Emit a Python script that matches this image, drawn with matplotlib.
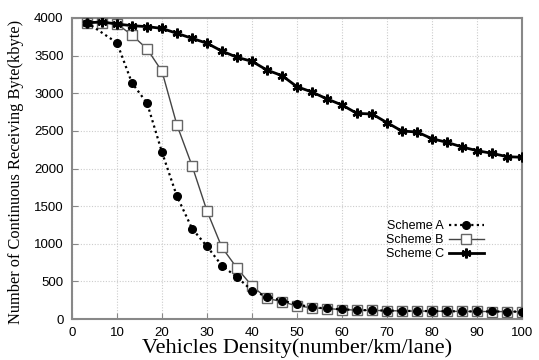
import matplotlib
matplotlib.use("Agg")
import matplotlib.pyplot as plt

# Vehicles density (number/km/lane)
x_full = [3.3, 6.7, 10, 13.3, 16.7, 20, 23.3, 26.7, 30, 33.3, 36.7, 40, 43.3, 46.7, 50,
          53.3, 56.7, 60, 63.3, 66.7, 70, 73.3, 76.7, 80, 83.3, 86.7, 90, 93.3, 96.7, 100]
x_a = [3.3, 10, 13.3, 16.7, 20, 23.3, 26.7, 30, 33.3, 36.7, 40, 43.3, 46.7, 50,
       53.3, 56.7, 60, 63.3, 66.7, 70, 73.3, 76.7, 80, 83.3, 86.7, 90, 93.3, 96.7, 100]

scheme_a = [3940, 3670, 3140, 2866, 2215, 1634, 1200, 965, 710, 555, 378, 297, 244, 195,
            155, 140, 128, 120, 115, 112, 108, 106, 105, 103, 102, 100, 100, 99, 98]
scheme_b = [3940, 3940, 3920, 3775, 3588, 3291, 2582, 2033, 1435, 953, 674, 439, 275, 230, 173,
            150, 138, 126, 118, 114, 111, 107, 105, 104, 102, 101, 100, 99, 98, 97]
scheme_c = [3937, 3947, 3920, 3898, 3885, 3862, 3796, 3730, 3664, 3561, 3477, 3424, 3309, 3233, 3087,
            3017, 2924, 2844, 2733, 2724, 2609, 2498, 2485, 2396, 2348, 2286, 2237, 2202, 2157, 2149]

x_ticks = [0, 10, 20, 30, 40, 50, 60, 70, 80, 90, 100]
y_ticks = [0, 500, 1000, 1500, 2000, 2500, 3000, 3500, 4000]

fig = plt.figure(figsize=(5.39, 3.6), dpi=100)
ax = fig.add_axes([72 / 539, 41 / 360, 450 / 539, 301 / 360])

ax.plot(x_a, scheme_a, color="black", linestyle=(0, (1, 1.5)), linewidth=1.6,
        marker="o", markersize=5.5, label="Scheme A", zorder=4)
ax.plot(x_full, scheme_b, color="#444444", linestyle="-", linewidth=1.0,
        marker="s", markersize=7, markerfacecolor="white", markeredgecolor="#666666",
        markeredgewidth=1.0, label="Scheme B", zorder=3)
ax.plot(x_full, scheme_c, color="black", linestyle="-", linewidth=2.0,
        marker=(6, 2, 0), markersize=7, markeredgewidth=1.8, label="Scheme C", zorder=5)

ax.set_xlim(0, 100)
ax.set_ylim(0, 4000)
ax.set_xticks(x_ticks)
ax.set_yticks(y_ticks)
ax.tick_params(direction="in", color="#888888", length=4, labelsize=9.5, pad=6)
for lab in ax.get_xticklabels() + ax.get_yticklabels():
    lab.set_family("Liberation Sans")

ax.grid(True, color="#cccccc", linestyle=(0, (1, 1.5)), linewidth=0.8)
ax.set_axisbelow(True)
for sp in ax.spines.values():
    sp.set_color("#888888")
    sp.set_linewidth(1.5)

ax.set_xlabel("Vehicles Density(number/km/lane)", family="Liberation Serif", fontsize=16)
ax.xaxis.set_label_coords(0.5, -0.113)
ax.xaxis.label.set_va("baseline")
ax.set_ylabel("Number of Continuous Receiving Byte(kbyte)", family="Liberation Serif",
              fontsize=11.8)
ax.yaxis.set_label_coords(-0.107, 0.488)

leg = ax.legend(loc="center right", bbox_to_anchor=(0.94, 0.262), frameon=False,
                markerfirst=False, handlelength=2.8, handletextpad=0.4,
                labelspacing=0.15, prop={"family": "Liberation Sans", "size": 9})

fig.savefig("out.png", dpi=100)
